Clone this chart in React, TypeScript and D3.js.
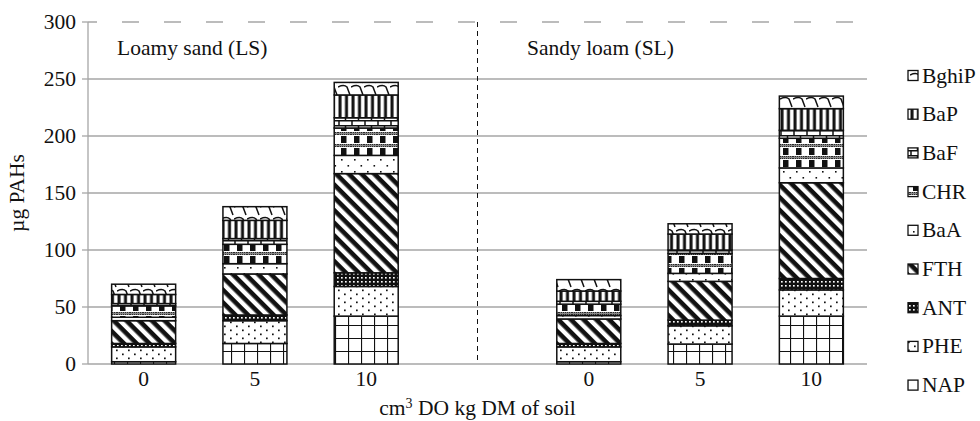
import React from "react";
import * as d3 from "d3";

const slotKeys = ["LS0", "LS5", "LS10", "gap", "SL0", "SL5", "SL10"];
const barKeys = ["LS0", "LS5", "LS10", "SL0", "SL5", "SL10"];
const doseLabels = ["0", "5", "10", "", "0", "5", "10"];
const soilLabels = ["Loamy sand (LS)", "Sandy loam (SL)"];
const seriesNames = ["NAP", "PHE", "ANT", "FTH", "BaA", "CHR", "BaF", "BaP", "BghiP"];

const NAP = [2, 18, 42, 2, 17.5, 42];
const PHE = [13, 20, 26, 13, 16, 23];
const ANT = [3, 5, 12, 3, 5, 10];
const FTH = [20, 36, 87, 21.5, 34, 84];
const BaA = [3, 9, 16, 3, 7, 13];
const CHR = [10, 17, 24, 10, 17.5, 26];
const BaF = [2, 5, 9, 2.5, 3, 7];
const BaP = [8, 16, 20, 9, 14, 19];
const BghiP = [9, 12, 11, 10, 9, 11];
const yTicks = [0, 50, 100, 150, 200, 250, 300];

const seriesValues: Record<string, number[]> = { NAP, PHE, ANT, FTH, BaA, CHR, BaF, BaP, BghiP };

const W = 980, H = 421;
const left = 88, right = 867, top = 22, bottom = 364;
const FONT = "'Liberation Serif', 'Times New Roman', serif";
const GRID = "#a6a6a6";
const FS = 21.5;

export default function App() {
  const x = d3.scaleBand<string>().domain(slotKeys).range([left, right]).paddingInner(0.425).paddingOuter(0.2125);
  const y = d3.scaleLinear().domain([0, 300]).range([bottom, top]);
  const rows = barKeys.map((k, i) => {
    const r: any = { key: k };
    seriesNames.forEach((s) => (r[s] = seriesValues[s][i]));
    return r;
  });
  const stacked = d3.stack<any>().keys(seriesNames)(rows);
  const gapX = (x("gap") as number) + x.bandwidth() / 2;

  return (
    <svg width={W} height={H} style={{ position: "absolute", left: 0, top: 0, background: "#fff" }} fontFamily={FONT}>
      <defs>
        <pattern id="p-NAP" width={13} height={13} patternUnits="userSpaceOnUse" x={left} y={bottom}>
          <rect width={13} height={13} fill="#fff" />
          <path d="M0 0H13M0 0V13" stroke="#111" strokeWidth={2.2} />
        </pattern>
        <pattern id="p-PHE" width={12} height={8} patternUnits="userSpaceOnUse">
          <rect width={12} height={8} fill="#fff" />
          <rect x={2} y={1.5} width={1.7} height={1.7} fill="#111" />
          <rect x={8} y={5.5} width={1.7} height={1.7} fill="#111" />
        </pattern>
        <pattern id="p-ANT" width={4} height={4} patternUnits="userSpaceOnUse">
          <rect width={4} height={4} fill="#111" />
          <rect x={1} y={1} width={1.7} height={1.6} fill="#fff" />
        </pattern>
        <pattern id="p-FTH" width={10} height={9} patternUnits="userSpaceOnUse" patternTransform="rotate(45)">
          <rect width={10} height={9} fill="#fff" />
          <rect width={10} height={4.6} fill="#111" />
        </pattern>
        <pattern id="p-BaA" width={13} height={12} patternUnits="userSpaceOnUse">
          <rect width={13} height={12} fill="#fff" />
          <rect x={3} y={3} width={1.6} height={1.6} fill="#111" />
          <rect x={9.5} y={9} width={1.6} height={1.6} fill="#111" />
        </pattern>
        <pattern id="p-CHR" width={13} height={12} patternUnits="userSpaceOnUse">
          <rect width={13} height={12} fill="#fff" />
          <rect x={0} y={0} width={13} height={3} fill="#888" />
          <path d="M0 0.5H13M0 2.5H13" stroke="#111" strokeWidth={0.8} strokeDasharray="1 1" />
          <rect x={3} y={4} width={5.5} height={7} fill="#111" />
        </pattern>
        <pattern id="p-BaF" width={13} height={10} patternUnits="userSpaceOnUse">
          <rect width={13} height={10} fill="#fff" />
          <path d="M0 0.75H13M0 5.75H13M1 0V5M7.5 5V10" stroke="#111" strokeWidth={1.5} />
        </pattern>
        <pattern id="p-BaP" width={6.5} height={10} patternUnits="userSpaceOnUse">
          <rect width={6.5} height={10} fill="#fff" />
          <rect x={0.5} width={3} height={10} fill="#111" />
        </pattern>
        <pattern id="p-BghiP" width={13} height={12} patternUnits="userSpaceOnUse">
          <rect width={13} height={12} fill="#fff" />
          <path d="M0 3 Q6 0 9 3 L12 11" stroke="#111" strokeWidth={1.5} fill="none" />
        </pattern>
      </defs>

      {/* gridlines */}
      {yTicks.filter((t) => t > 0 && t < 300).map((t) => (
        <line key={t} x1={left} x2={right} y1={y(t)} y2={y(t)} stroke={GRID} strokeWidth={1.3} />
      ))}
      <line x1={left} x2={right} y1={y(300)} y2={y(300)} stroke={GRID} strokeWidth={1.3} strokeDasharray="17 25" strokeDashoffset={8} />

      {/* axes */}
      <line x1={left} x2={left} y1={top} y2={bottom} stroke={GRID} strokeWidth={1.3} />
      <line x1={left} x2={right} y1={bottom} y2={bottom} stroke={GRID} strokeWidth={1.3} />
      {yTicks.map((t) => (
        <g key={"t" + t}>
          <line x1={left - 6} x2={left} y1={y(t)} y2={y(t)} stroke={GRID} strokeWidth={1.3} />
          <text x={left - 12} y={y(t) + 7} textAnchor="end" fontSize={FS} fill="#111">{t}</text>
        </g>
      ))}

      {/* divider */}
      <line x1={gapX} x2={gapX} y1={top} y2={bottom} stroke="#111" strokeWidth={1} strokeDasharray="5 4" />

      {/* bars */}
      {stacked.map((layer) => (
        <g key={layer.key} fill={`url(#p-${layer.key})`} stroke="#111" strokeWidth={1.5}>
          {layer.map((d, i) => (
            <rect key={i} x={x(barKeys[i])} width={x.bandwidth()} y={y(d[1])} height={Math.max(0, y(d[0]) - y(d[1]))} />
          ))}
        </g>
      ))}

      {/* x tick labels */}
      {slotKeys.map((k, i) => doseLabels[i] ? (
        <text key={k} x={(x(k) as number) + x.bandwidth() / 2} y={386} textAnchor="middle" fontSize={FS} fill="#111">{doseLabels[i]}</text>
      ) : null)}

      {/* soil labels */}
      <text x={117} y={55} fontSize={FS} fill="#111">{soilLabels[0]}</text>
      <text x={527} y={55} fontSize={FS} fill="#111">{soilLabels[1]}</text>

      {/* axis titles */}
      <text x={(left + right) / 2} y={415} textAnchor="middle" fontSize={FS} fill="#111">
        cm<tspan fontSize={14} dy={-7}>3</tspan><tspan dy={7}> DO kg DM of soil</tspan>
      </text>
      <text transform={`translate(24,${(top + bottom) / 2}) rotate(-90)`} textAnchor="middle" fontSize={FS} fill="#111">µg PAHs</text>

      {/* legend */}
      {seriesNames.slice().reverse().map((s, i) => {
        const cy = 75.5 + i * 38.7;
        return (
          <g key={s}>
            <rect x={908} y={cy - 5} width={10} height={10} fill={`url(#p-${s})`} stroke="#111" strokeWidth={1.3} />
            <text x={922} y={cy + 7} fontSize={FS} fill="#111">{s}</text>
          </g>
        );
      })}
    </svg>
  );
}
